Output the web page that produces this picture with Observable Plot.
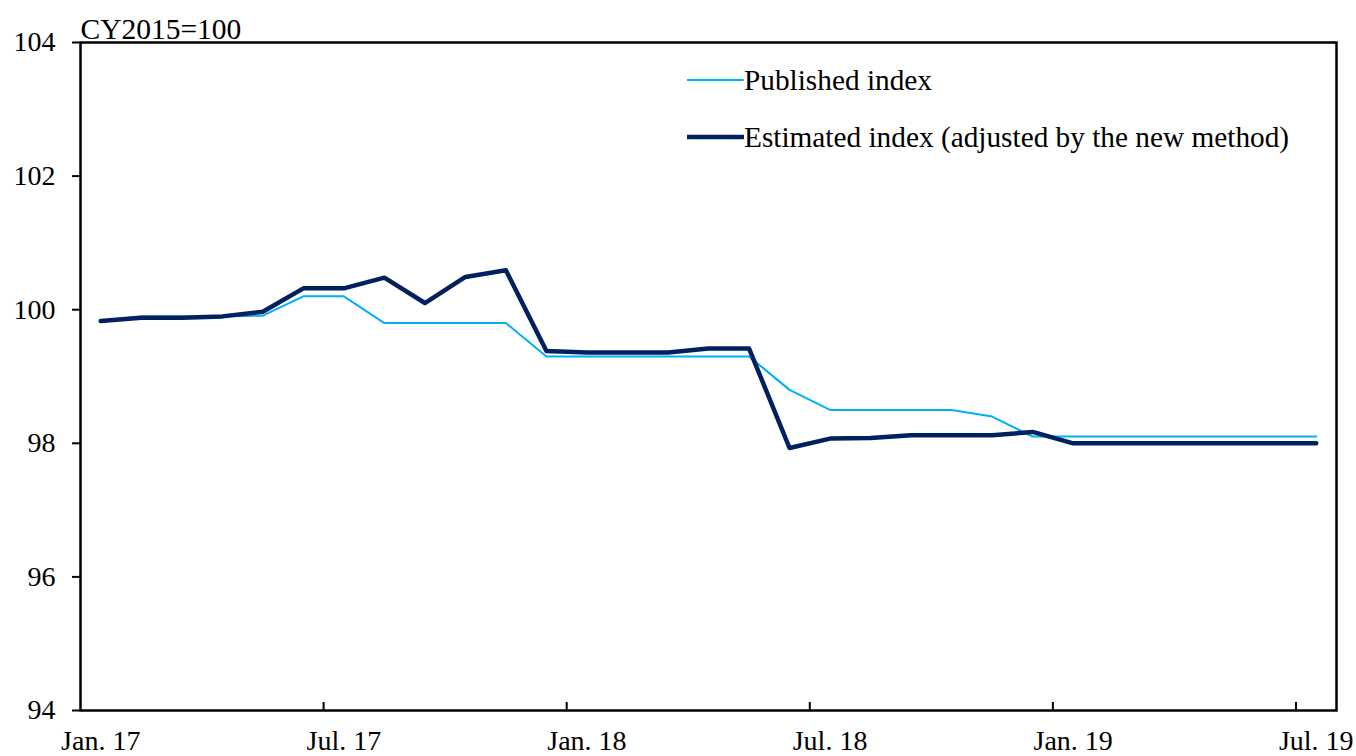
<!DOCTYPE html>
<html>
<head>
<meta charset="utf-8">
<script src="https://cdn.jsdelivr.net/npm/d3@7"></script>
<script src="https://cdn.jsdelivr.net/npm/@observablehq/plot@0.6"></script>
<style>
  html, body { margin: 0; padding: 0; background: #fff; }
  #wrap { position: relative; width: 1356px; height: 756px; overflow: hidden; }
  #legend { position: absolute; left: 687px; top: 62px; font-family: "Liberation Serif", "Times New Roman", serif; font-size: 29.3px; color: #000; }
  .row { display: flex; align-items: center; height: 36px; }
  .row + .row { margin-top: 21px; }
  .row svg { width: 57px; height: 10px; flex: none; }
</style>
</head>
<body>
<div id="wrap"></div>
<script>
const months = [
  "Jan. 17","Feb. 17","Mar. 17","Apr. 17","May 17","Jun. 17","Jul. 17","Aug. 17","Sep. 17","Oct. 17","Nov. 17","Dec. 17",
  "Jan. 18","Feb. 18","Mar. 18","Apr. 18","May 18","Jun. 18","Jul. 18","Aug. 18","Sep. 18","Oct. 18","Nov. 18","Dec. 18",
  "Jan. 19","Feb. 19","Mar. 19","Apr. 19","May 19","Jun. 19","Jul. 19"
];
const published = [
  99.84, 99.90, 99.90, 99.90, 99.91, 100.2, 100.2, 99.8, 99.8, 99.8, 99.8, 99.3,
  99.3, 99.3, 99.3, 99.3, 99.3, 98.8, 98.5, 98.5, 98.5, 98.5, 98.4, 98.1,
  98.1, 98.1, 98.1, 98.1, 98.1, 98.1, 98.1
];
const estimated = [
  99.83, 99.88, 99.88, 99.90, 99.97, 100.32, 100.32, 100.48, 100.10, 100.49, 100.59, 99.38,
  99.36, 99.36, 99.36, 99.42, 99.42, 97.93, 98.07, 98.08, 98.12, 98.12, 98.12, 98.17,
  98.00, 98.00, 98.00, 98.00, 98.00, 98.00, 98.00
];
const tickLabels = ["Jan. 17","Jul. 17","Jan. 18","Jul. 18","Jan. 19","Jul. 19"];
const yTicks = [94, 96, 98, 100, 102, 104];
const unitLabel = "CY2015=100";
const seriesNames = ["Published index", "Estimated index (adjusted by the new method)"];
const colors = ["#00B0F0", "#002060"];

const pubData = months.map((m, i) => ({i, v: published[i]}));
const estData = months.map((m, i) => ({i, v: estimated[i]}));
const labelIdx = tickLabels.map(l => months.indexOf(l));
const boundaryIdx = labelIdx.slice(1).map(i => i - 0.5);

const W = 1356, H = 756;
const mL = 80, mR = 20, mT = 42, mB = H - 710;

const chart = Plot.plot({
  width: W,
  height: H,
  marginLeft: mL,
  marginRight: mR,
  marginTop: mT,
  marginBottom: mB,
  style: { fontFamily: "Liberation Serif, Times New Roman, serif", fontSize: "28px", color: "#000", background: "#fff", overflow: "visible" },
  x: { domain: [-0.5, months.length - 0.5] },
  y: { domain: [94, 104] },
  marks: [
    Plot.axisY({ ticks: yTicks, tickSize: 8, tickPadding: 17, strokeWidth: 2, label: null, fill: "#000" }),
    Plot.axisX({ ticks: labelIdx, tickSize: 0, tickPadding: 20, tickFormat: i => months[i], label: null, fill: "#000" }),
    Plot.tickX(boundaryIdx, { x: d => d, insetTop: (710 - mT) - 8, stroke: "#000", strokeWidth: 2 }),
    Plot.frame({ stroke: "#000", strokeWidth: 2.5 }),
    Plot.line(pubData, { x: "i", y: "v", stroke: colors[0], strokeWidth: 2 }),
    Plot.line(estData, { x: "i", y: "v", stroke: colors[1], strokeWidth: 4.5, strokeLinecap: "round", strokeLinejoin: "round" }),
    Plot.text([unitLabel], { text: d => d, frameAnchor: "top-left", textAnchor: "start", lineAnchor: "bottom", dy: -4, fontSize: 29.5, fill: "#000" })
  ]
});

const wrap = document.getElementById("wrap");
wrap.appendChild(chart);

const legend = document.createElement("div");
legend.id = "legend";
seriesNames.forEach((name, k) => {
  const row = document.createElement("div");
  row.className = "row";
  row.innerHTML = `<svg viewBox="0 0 57 10"><line x1="0" x2="56" y1="5" y2="5" stroke="${colors[k]}" stroke-width="${k ? 4.5 : 2}" stroke-linecap="round"/></svg><span>${name}</span>`;
  legend.appendChild(row);
});
wrap.appendChild(legend);
</script>
</body>
</html>
